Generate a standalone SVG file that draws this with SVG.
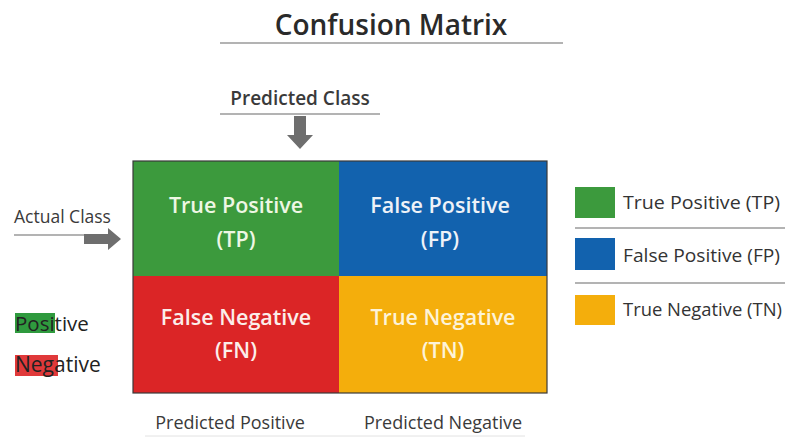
<svg xmlns="http://www.w3.org/2000/svg" width="787" height="437" viewBox="0 0 787 437">
  <defs>
    <style>
      text { font-family: "Open Sans", "Noto Sans", "DejaVu Sans", sans-serif; }
      .title { font-size: 28px; font-weight: 600; fill: #2a2a2a; }
      .axis { font-size: 19px; font-weight: 600; fill: #3a3a3a; }
      .side { font-size: 17.5px; fill: #3a3a3a; }
      .cell { font-size: 21.5px; font-weight: 600; text-anchor: middle; }
      .colLabel { font-size: 18px; fill: #3a3a3a; text-anchor: middle; }
      .legend { font-size: 18.5px; fill: #333; }
      .rule { stroke: #9a9a9a; stroke-width: 1.3; }
      .arrow { fill: #6e6e6e; }
    </style>
  </defs>

  <rect width="787" height="437" fill="#ffffff"/>

  <!-- Title -->
  <g id="title">
    <text class="title" x="391" y="35" text-anchor="middle">Confusion Matrix</text>
    <line class="rule" x1="220" y1="43" x2="563" y2="43"/>
  </g>

  <!-- Axis headings -->
  <g id="predicted-class">
    <text class="axis" x="300" y="105" text-anchor="middle">Predicted Class</text>
    <line class="rule" x1="220" y1="114" x2="380" y2="114"/>
  </g>
  <g id="actual-class">
    <text class="side" x="14" y="223">Actual Class</text>
    <line class="rule" x1="14" y1="235" x2="90" y2="235"/>
  </g>

  <!-- Connectors -->
  <g id="connectors">
    <polygon class="arrow" points="294,116 306,116 306,135 313,135 300,149 287,135 294,135"/>
    <polygon class="arrow" points="84,234 108,234 108,228 121,239 108,250 108,244 84,244"/>
  </g>

  <!-- Matrix cells -->
  <g id="cell-tp">
    <rect x="133" y="161" width="206" height="115" fill="#3c9a3d"/>
    <text class="cell" x="236" y="213" fill="#eef7e4">True Positive</text>
    <text class="cell" x="236" y="247" fill="#eef7e4">(TP)</text>
  </g>
  <g id="cell-fp">
    <rect x="339" y="161" width="208" height="115" fill="#1262ae"/>
    <text class="cell" x="440" y="213" fill="#eef2f8">False Positive</text>
    <text class="cell" x="440" y="247" fill="#eef2f8">(FP)</text>
  </g>
  <g id="cell-fn">
    <rect x="133" y="276" width="206" height="117" fill="#db2526"/>
    <text class="cell" x="236" y="325" fill="#fbeeea">False Negative</text>
    <text class="cell" x="236" y="358" fill="#fbeeea">(FN)</text>
  </g>
  <g id="cell-tn">
    <rect x="339" y="276" width="208" height="117" fill="#f4ae0c"/>
    <text class="cell" x="443" y="325" fill="#fdf3d8">True Negative</text>
    <text class="cell" x="443" y="358" fill="#fdf3d8">(TN)</text>
  </g>
  <rect x="133" y="161" width="414" height="232" fill="none" stroke="#3a3a3a" stroke-width="1.2"/>

  <!-- Column labels -->
  <g id="column-labels">
    <text class="colLabel" x="230" y="429">Predicted Positive</text>
    <text class="colLabel" x="443" y="429">Predicted Negative</text>
    <line x1="145" y1="436" x2="525" y2="436" stroke="#e2e2e2" stroke-width="1"/>
  </g>

  <!-- Row keys -->
  <g id="row-positive">
    <rect x="15" y="313" width="40" height="20" fill="#2f9a3e"/>
    <text x="15" y="331" font-size="20.5" fill="#222">Positive</text>
  </g>
  <g id="row-negative">
    <rect x="15" y="355" width="43" height="21" fill="#e0393a"/>
    <text x="15" y="372" font-size="21" fill="#222">Negative</text>
  </g>

  <!-- Legend -->
  <g id="legend-tp">
    <rect x="575" y="187" width="40" height="31" fill="#3c9a3d"/>
    <text class="legend" x="623" y="209" textLength="157" lengthAdjust="spacingAndGlyphs">True Positive (TP)</text>
  </g>
  <line class="rule" x1="575" y1="228" x2="785" y2="228" stroke="#c8c8c8"/>
  <g id="legend-fp">
    <rect x="575" y="238" width="40" height="32" fill="#1262ae"/>
    <text class="legend" x="623" y="262" textLength="157" lengthAdjust="spacingAndGlyphs">False Positive (FP)</text>
  </g>
  <line class="rule" x1="575" y1="283" x2="785" y2="283" stroke="#c8c8c8"/>
  <g id="legend-tn">
    <rect x="575" y="295" width="40" height="30" fill="#f4ae0c"/>
    <text class="legend" x="623" y="316" textLength="159" lengthAdjust="spacingAndGlyphs">True Negative (TN)</text>
  </g>
</svg>
